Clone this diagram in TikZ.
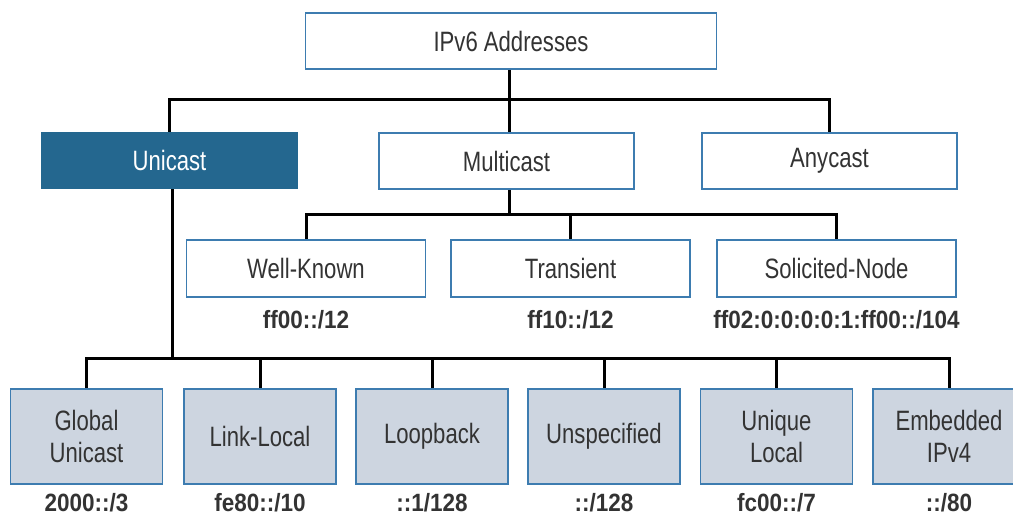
\documentclass[tikz,border=0pt]{standalone}
\usepackage{fontspec}
\setmainfont{Liberation Sans}
\newfontfamily\boxfont[FakeStretch=0.79]{Liberation Sans}
\newfontfamily\codefont[FakeStretch=0.9]{Liberation Sans}
\definecolor{edgeblue}{HTML}{3D7CB0}
\definecolor{unifill}{HTML}{24678F}
\definecolor{leaffill}{HTML}{CDD5E0}
\definecolor{txt}{HTML}{333333}
\tikzset{
  box/.style={draw=edgeblue, line width=1.6pt, fill=white, inner sep=0pt,
    text=txt, font=\boxfont\fontsize{28}{32}\selectfont, align=center},
  topbox/.style={box, minimum width=411pt, minimum height=56pt},
  midbox/.style={box, minimum width=255pt, minimum height=56pt},
  subbox/.style={box, minimum width=239pt, minimum height=57pt},
  leafbox/.style={box, fill=leaffill, minimum width=152pt, minimum height=95pt},
  code/.style={inner sep=0pt, text=txt, font=\codefont\bfseries\fontsize{25}{28}\selectfont},
  wire/.style={line width=3pt, black}
}
\begin{document}
\begin{tikzpicture}[x=1pt, y=-1pt]
\clip (0,0) rectangle (1013,517);
\fill[white] (0,0) rectangle (1013,517);

% bus levels
\coordinate (busA) at (0,99);
\coordinate (busB) at (0,214);
\coordinate (busC) at (0,358);

% address classes
\node[topbox] (root) at (511,41) {IPv6 Addresses};
\node[midbox, fill=unifill, draw=unifill, text=white] (uni) at (169.5,160.5) {Unicast};
\node[midbox] (multi) at (506.5,161) {Multicast};
\node[midbox] (any) at (829.5,161) {Anycast};

% multicast kinds
\node[subbox] (wk) at (306,268.5) {Well-Known};
\node[subbox] (tr) at (570.5,268.5) {Transient};
\node[subbox] (sn) at (836.5,268.5) {Solicited-Node};

% unicast kinds
\node[leafbox] (gu) at (86.5,436.5) {Global\\Unicast};
\node[leafbox] (ll) at (260,436.5) {Link-Local};
\node[leafbox] (lb) at (432,436.5) {Loopback};
\node[leafbox] (us) at (604,436.5) {Unspecified};
\node[leafbox] (ul) at (776.5,436.5) {Unique\\Local};
\node[leafbox] (ev) at (949,436.5) {Embedded\\IPv4};

% prefixes
\node[code] (cwk) at (306,320) {ff00::/12};
\node[code] (ctr) at (570.5,320) {ff10::/12};
\node[code] (csn) at (836.5,320) {ff02:0:0:0:0:1:ff00::/104};

\node[code] (cgu) at (86.5,503) {2000::/3};
\node[code] (cll) at (260,503) {fe80::/10};
\node[code] (clb) at (432,503) {::1/128};
\node[code] (cus) at (604,503) {::/128};
\node[code] (cul) at (776.5,503) {fc00::/7};
\node[code] (cev) at (949,503) {::/80};

% top level
\draw[wire] ([xshift=-2pt]root.south) -- ([xshift=-2pt]root.south |- multi.north);
\draw[wire] (uni.north) -- (uni.north |- busA) -- (any.north |- busA) -- (any.north);

% multicast branch
\draw[wire] ([xshift=2.5pt]multi.south) -- ([xshift=2.5pt]multi.south |- busB);
\draw[wire] (wk.north) -- (wk.north |- busB) -- (sn.north |- busB) -- (sn.north);
\draw[wire] (tr.north) -- (tr.north |- busB);

% unicast branch
\draw[wire] ([xshift=2.5pt]uni.south) -- ([xshift=2.5pt]uni.south |- busC);
\draw[wire] (gu.north) -- (gu.north |- busC) -- (ev.north |- busC) -- (ev.north);
\foreach \n in {ll,lb,us,ul} \draw[wire] (\n.north) -- (\n.north |- busC);
\end{tikzpicture}
\end{document}
